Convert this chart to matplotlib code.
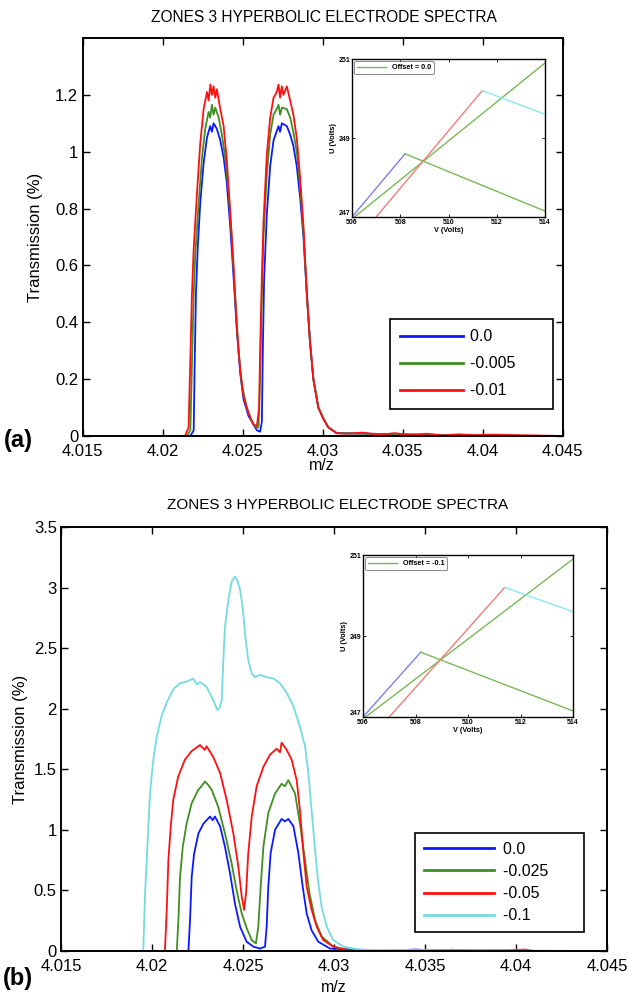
import matplotlib
matplotlib.use("Agg")
import matplotlib.pyplot as plt

plt.rcParams['font.family'] = ['Liberation Sans', 'DejaVu Sans']

W, H = 628, 996

# ---------------- panel (a) data ----------------
mz_red_a = [4.015, 4.0214, 4.02163, 4.02174, 4.02184, 4.02195, 4.02215, 4.02236, 4.02257, 4.02278,
            4.02288, 4.02299, 4.02309, 4.02319, 4.0233, 4.0234, 4.02361, 4.02382, 4.02402, 4.02423,
            4.02444, 4.02465, 4.02486, 4.02506, 4.02538, 4.02569, 4.0259, 4.02604, 4.0261, 4.02621,
            4.02631, 4.02652, 4.02673, 4.02694, 4.02714, 4.02725, 4.02735, 4.02746, 4.02756, 4.02777,
            4.02798, 4.02818, 4.02839, 4.0286, 4.02881, 4.02902, 4.02922, 4.02943, 4.02974, 4.03006,
            4.03037, 4.03089, 4.0315, 4.0325, 4.0335, 4.0345, 4.0355, 4.0365, 4.0375, 4.0385,
            4.0395, 4.0405, 4.045]
tr_red_a = [0, 0, 0.03, 0.27, 0.50, 0.66, 0.85, 1.03, 1.15, 1.21,
            1.18, 1.236, 1.20, 1.23, 1.19, 1.22, 1.15, 1.09, 0.97, 0.79,
            0.60, 0.38, 0.23, 0.14, 0.08, 0.04, 0.035, 0.10, 0.30, 0.56,
            0.75, 0.99, 1.12, 1.19, 1.21, 1.236, 1.19, 1.23, 1.20, 1.23,
            1.18, 1.13, 1.05, 0.91, 0.74, 0.50, 0.33, 0.20, 0.10, 0.06,
            0.03, 0.01, 0.008, 0.012, 0.004, 0.01, 0.003, 0.008, 0.002, 0.006,
            0.003, 0.005, 0]

mz_green_a = [4.015, 4.02153, 4.02174, 4.02184, 4.02195, 4.02205, 4.02226, 4.02247, 4.02267, 4.02288,
              4.02298, 4.02309, 4.02319, 4.0233, 4.02351, 4.02371, 4.02392, 4.02413, 4.02434, 4.02454,
              4.02475, 4.02496, 4.02527, 4.02558, 4.02585, 4.026, 4.0261, 4.02619, 4.02631, 4.02652,
              4.02673, 4.02694, 4.02714, 4.02725, 4.02735, 4.02746, 4.02777, 4.02798, 4.02818, 4.02839,
              4.0286, 4.02881, 4.02902, 4.02922, 4.02943, 4.02974, 4.03006, 4.03037, 4.03089, 4.041]
tr_green_a = [0, 0, 0.02, 0.25, 0.50, 0.64, 0.82, 0.98, 1.08, 1.14,
              1.12, 1.165, 1.13, 1.155, 1.12, 1.06, 0.98, 0.86, 0.69, 0.49,
              0.30, 0.18, 0.10, 0.05, 0.03, 0.03, 0.2, 0.45, 0.70, 0.92,
              1.06, 1.13, 1.15, 1.165, 1.13, 1.155, 1.15, 1.12, 1.07, 1.00,
              0.88, 0.72, 0.50, 0.33, 0.20, 0.10, 0.06, 0.03, 0.01, 0]

mz_blue_a = [4.015, 4.02174, 4.02195, 4.02201, 4.02209, 4.0222, 4.02236, 4.02257, 4.02278, 4.02298,
             4.02309, 4.02319, 4.0234, 4.02361, 4.02382, 4.02402, 4.02423, 4.02444, 4.02465, 4.02486,
             4.02506, 4.02538, 4.02569, 4.0259, 4.0261, 4.02621, 4.02627, 4.02635, 4.02652, 4.02673,
             4.02694, 4.02725, 4.02735, 4.02746, 4.02777, 4.02798, 4.02818, 4.02839, 4.0286, 4.02881,
             4.02902, 4.02922, 4.02943, 4.02974, 4.03006, 4.03037, 4.03089, 4.041]
tr_blue_a = [0, 0, 0.02, 0.25, 0.50, 0.66, 0.82, 0.96, 1.05, 1.09,
             1.07, 1.10, 1.08, 1.04, 0.98, 0.89, 0.74, 0.56, 0.37, 0.22,
             0.13, 0.07, 0.04, 0.02, 0.015, 0.05, 0.3, 0.55, 0.78, 0.95,
             1.04, 1.09, 1.07, 1.10, 1.09, 1.06, 1.02, 0.95, 0.84, 0.70,
             0.50, 0.33, 0.20, 0.10, 0.06, 0.03, 0.01, 0]

labels_a = ['0.0', '-0.005', '-0.01']

# ---------------- panel (b) data ----------------
mz_cyan_b = [4.015, 4.01952, 4.01962, 4.01971, 4.0198, 4.01989, 4.02007, 4.02026, 4.02053, 4.0208,
             4.02117, 4.02153, 4.0219, 4.02227, 4.02245, 4.02264, 4.023, 4.02337, 4.02359, 4.0237,
             4.02383, 4.02392, 4.02401, 4.0242, 4.02438, 4.02456, 4.02469, 4.02484, 4.02498, 4.02511,
             4.02529, 4.02548, 4.02566, 4.02594, 4.0263, 4.02667, 4.02703, 4.0274, 4.02777, 4.02813,
             4.02841, 4.02859, 4.02877, 4.02896, 4.02914, 4.02932, 4.0296, 4.02996, 4.03051, 4.03143,
             4.045]
tr_cyan_b = [0, 0, 0.48, 0.75, 1.03, 1.30, 1.58, 1.77, 1.94, 2.05,
             2.16, 2.21, 2.224, 2.25, 2.20, 2.22, 2.18, 2.07, 1.99, 2.00,
             2.07, 2.40, 2.68, 2.90, 3.05, 3.09, 3.06, 2.98, 2.84, 2.62,
             2.40, 2.29, 2.26, 2.28, 2.26, 2.25, 2.21, 2.13, 2.02, 1.85,
             1.69, 1.47, 1.16, 0.83, 0.56, 0.365, 0.20, 0.09, 0.036, 0.01,
             0]

mz_red_b = [4.019, 4.02071, 4.02081, 4.0209, 4.02103, 4.02117, 4.02144, 4.02181, 4.02218, 4.02245,
            4.02264, 4.0229, 4.023, 4.02337, 4.02374, 4.0241, 4.02447, 4.02474, 4.02493, 4.02506,
            4.02517, 4.02529, 4.02548, 4.02575, 4.02612, 4.02648, 4.02685, 4.02703, 4.02712, 4.0274,
            4.02767, 4.02795, 4.02813, 4.02832, 4.0285, 4.02877, 4.02905, 4.02941, 4.02996, 4.0307,
            4.0325, 4.035, 4.0365, 4.0375, 4.0395, 4.0405, 4.041]
tr_red_b = [0, 0, 0.34, 0.75, 1.03, 1.25, 1.44, 1.58, 1.65, 1.68,
            1.70, 1.66, 1.69, 1.60, 1.47, 1.25, 0.97, 0.70, 0.45, 0.34,
            0.48, 0.81, 1.11, 1.36, 1.52, 1.62, 1.67, 1.64, 1.72, 1.66,
            1.58, 1.41, 1.16, 0.81, 0.53, 0.34, 0.20, 0.09, 0.036, 0.01,
            0.008, 0.004, 0.01, 0.003, 0.006, 0.012, 0]

mz_green_b = [4.019, 4.02136, 4.02145, 4.02154, 4.02169, 4.0219, 4.02218, 4.02254, 4.02272, 4.02291,
              4.02309, 4.02328, 4.02364, 4.02401, 4.02438, 4.02465, 4.02493, 4.0252, 4.02548, 4.02571,
              4.02584, 4.02597, 4.02612, 4.02639, 4.02676, 4.02712, 4.0273, 4.02749, 4.02786, 4.02813,
              4.02841, 4.02865, 4.02896, 4.02932, 4.02996, 4.0307, 4.041]
tr_green_b = [0, 0, 0.255, 0.61, 0.86, 1.05, 1.22, 1.33, 1.36, 1.40,
              1.37, 1.33, 1.19, 0.97, 0.72, 0.50, 0.31, 0.19, 0.09, 0.063,
              0.20, 0.53, 0.86, 1.14, 1.30, 1.38, 1.36, 1.41, 1.30, 1.05,
              0.75, 0.48, 0.255, 0.12, 0.036, 0.01, 0]

mz_blue_b = [4.019, 4.022, 4.02209, 4.02218, 4.02231, 4.02255, 4.02282, 4.02319, 4.02333, 4.02346,
             4.02374, 4.02401, 4.02429, 4.02456, 4.02484, 4.0252, 4.02557, 4.02593, 4.02621, 4.0263,
             4.02639, 4.02652, 4.02676, 4.02712, 4.0273, 4.02749, 4.02777, 4.02804, 4.02828, 4.0285,
             4.02877, 4.02914, 4.02978, 4.0315, 4.0335, 4.0345, 4.0355, 4.041]
tr_blue_b = [0, 0, 0.255, 0.61, 0.80, 0.97, 1.05, 1.11, 1.08, 1.11,
             1.03, 0.86, 0.64, 0.39, 0.20, 0.076, 0.036, 0.02, 0.036, 0.20,
             0.53, 0.81, 1.00, 1.09, 1.07, 1.09, 1.03, 0.81, 0.53, 0.31,
             0.17, 0.076, 0.02, 0.01, 0.006, 0.012, 0.004, 0]

labels_b = ['0.0', '-0.025', '-0.05', '-0.1']

# ---------------- inset (U-V scan lines) ----------------
v_blue = [506.0, 508.2]
u_blue = [247.0, 248.6]
v_green_up = [506.1, 514.0]
u_green_up = [247.0, 250.9]
v_green_down = [508.2, 514.0]
u_green_down = [248.6, 247.15]
v_red = [507.0, 511.4]
u_red = [247.0, 250.2]
v_cyan = [511.4, 514.0]
u_cyan = [250.2, 249.6]

C_BLUE = '#0a1aff'
C_GREEN = '#3f8f22'
C_RED = '#ff1010'
C_CYAN = '#72dce2'
C_IN_BLUE = '#7f7fe8'
C_IN_GREEN = '#79b856'
C_IN_RED = '#f27c7c'
C_IN_CYAN = '#8ae8ee'


def px_axes(fig, left, top, right, bottom):
    return fig.add_axes([left / W, 1 - bottom / H, (right - left) / W, (bottom - top) / H])


def style_main(ax, ymax, yticks):
    ax.set_xlim(4.015, 4.045)
    ax.set_ylim(0, ymax)
    ax.set_xticks([4.015, 4.02, 4.025, 4.03, 4.035, 4.04, 4.045])
    ax.set_xticklabels(['4.015', '4.02', '4.025', '4.03', '4.035', '4.04', '4.045'])
    ax.set_yticks(yticks)
    ax.set_yticklabels([('%g' % t) for t in yticks])
    ax.tick_params(direction='in', top=True, right=True, length=5, width=1,
                   labelsize=12, pad=3)
    ax.tick_params(axis='x', pad=6)
    for s in ax.spines.values():
        s.set_linewidth(1.4)


def draw_inset(ax, offset_label):
    ax.plot(v_blue, u_blue, color=C_IN_BLUE, lw=1.0)
    ax.plot(v_green_up, u_green_up, color=C_IN_GREEN, lw=1.0, label=offset_label)
    ax.plot(v_green_down, u_green_down, color=C_IN_GREEN, lw=1.0)
    ax.plot(v_red, u_red, color=C_IN_RED, lw=1.0)
    ax.plot(v_cyan, u_cyan, color=C_IN_CYAN, lw=1.0)
    ax.set_xlim(506, 514)
    ax.set_ylim(247, 251)
    ax.set_xticks([506, 508, 510, 512, 514])
    ax.set_yticks([247, 249, 251])
    ax.tick_params(direction='in', top=True, right=True, length=2, width=0.6,
                   labelsize=5, pad=1)
    ax.tick_params(axis='x', pad=1.5)
    for lab in ax.get_xticklabels() + ax.get_yticklabels():
        lab.set_fontweight('bold')
    # corner label sits just above the 506 label, as in the original
    ax.get_yticklabels()[0].set_verticalalignment('bottom')
    ax.set_xlabel('V (Volts)', fontsize=5.3, fontweight='bold', labelpad=1)
    ax.set_ylabel('U (Volts)', fontsize=5.3, fontweight='bold', labelpad=1)
    for s in ax.spines.values():
        s.set_linewidth(1.0)
    leg = ax.legend(loc='upper left', prop={'weight': 'bold', 'size': 5.2},
                    handlelength=4, borderpad=0.4, borderaxespad=0.3, frameon=True,
                    fancybox=True)
    leg.get_frame().set_edgecolor('#555555')
    leg.get_frame().set_linewidth(0.6)


def frame_legend(ax, labels, anchor, **kw):
    # extra trailing room inside the box, as in the original legend frame
    handles = ax.get_lines()[:len(labels)]
    leg = ax.legend(handles, [lab + '      ' for lab in labels], loc='upper left',
                    bbox_to_anchor=anchor, bbox_transform=fig.transFigure, fontsize=11.5,
                    fancybox=False, framealpha=1, borderaxespad=0, **kw)
    leg.get_frame().set_edgecolor('black')
    leg.get_frame().set_linewidth(1.2)
    for ln in leg.get_lines():
        ln.set_linewidth(2.0)
    return leg


fig = plt.figure(figsize=(W / 100, H / 100), dpi=100)

# ---------------- panel (a) ----------------
ax_a = px_axes(fig, 82.5, 38, 562.5, 436)
ax_a.plot(mz_blue_a, tr_blue_a, color=C_BLUE, lw=1.3)
ax_a.plot(mz_green_a, tr_green_a, color=C_GREEN, lw=1.3)
ax_a.plot(mz_red_a, tr_red_a, color=C_RED, lw=1.3)
style_main(ax_a, 1.4, [0, 0.2, 0.4, 0.6, 0.8, 1, 1.2])
ax_a.set_ylabel('Transmission (%)', fontsize=12, labelpad=9)
frame_legend(ax_a, labels_a, (390 / W, 1 - 319 / H), handlelength=3.9,
             handletextpad=0.45, labelspacing=0.75, borderpad=0.65)
fig.text(324 / W, 1 - 18 / H, 'ZONES 3 HYPERBOLIC ELECTRODE SPECTRA', fontsize=11.2,
         ha='center', va='center')
fig.text(322 / W, 1 - 465 / H, 'm/z', fontsize=11.5, ha='center', va='center')
fig.text(4 / W, 1 - 440 / H, '(a)', fontsize=17, fontweight='bold', ha='left', va='center')

in_a = px_axes(fig, 352, 59, 545, 217)
draw_inset(in_a, 'Offset = 0.0')

# ---------------- panel (b) ----------------
ax_b = px_axes(fig, 61, 527, 607, 951)
ax_b.plot(mz_blue_b, tr_blue_b, color=C_BLUE, lw=1.3)
ax_b.plot(mz_green_b, tr_green_b, color=C_GREEN, lw=1.3)
ax_b.plot(mz_red_b, tr_red_b, color=C_RED, lw=1.3)
ax_b.plot(mz_cyan_b, tr_cyan_b, color=C_CYAN, lw=1.3)
style_main(ax_b, 3.5, [0, 0.5, 1, 1.5, 2, 2.5, 3, 3.5])
ax_b.set_ylabel('Transmission (%)', fontsize=12, labelpad=4)
frame_legend(ax_b, labels_b, (415 / W, 1 - 833 / H), handlelength=4.4,
             handletextpad=0.55, labelspacing=0.45, borderpad=0.55)
fig.text(338 / W, 1 - 505 / H, 'ZONES 3 HYPERBOLIC ELECTRODE SPECTRA', fontsize=11,
         ha='center', va='center')
fig.text(334 / W, 1 - 987 / H, 'm/z', fontsize=11.5, ha='center', va='center')
fig.text(3 / W, 1 - 978 / H, '(b)', fontsize=17, fontweight='bold', ha='left', va='center')

in_b = px_axes(fig, 363, 555, 573, 717)
draw_inset(in_b, 'Offset = -0.1')

fig.savefig('out.png', dpi=100)
